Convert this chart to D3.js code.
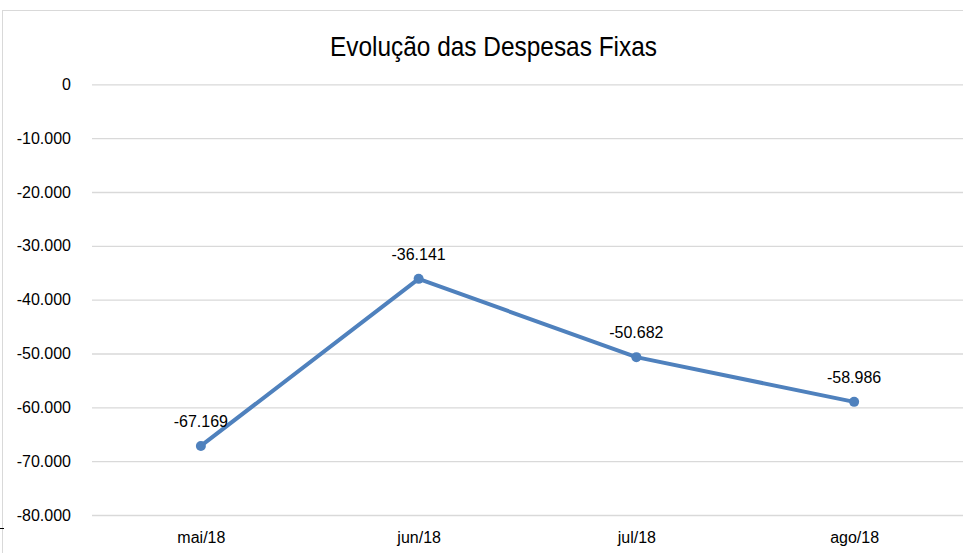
<!DOCTYPE html>
<html><head><meta charset="utf-8">
<script src="https://cdn.jsdelivr.net/npm/d3@7"></script>
<style>body{margin:0;background:#fff}svg{display:block}</style>
</head><body>
<script>
const title = "Evolução das Despesas Fixas";
const categories = ["mai/18", "jun/18", "jul/18", "ago/18"];
const values = [-67169, -36141, -50682, -58986];
const yTicks = [0, -10000, -20000, -30000, -40000, -50000, -60000, -70000, -80000];

const W = 963, H = 553;
const svg = d3.select("body").append("svg").attr("width", W).attr("height", H);
svg.append("rect").attr("x",2.5).attr("y",10.5).attr("width",W+5).attr("height",H+5)
  .attr("fill","#fff").attr("stroke","#d9d9d9");
svg.append("line").attr("x1",0).attr("x2",4).attr("y1",528.5).attr("y2",528.5).attr("stroke","#000");

const x = d3.scalePoint().domain(categories).range([92, 963]).padding(0.5);
const y = d3.scaleLinear().domain([-80000, 0]).range([515, 84.3]);
const fmt = v => d3.format(",")(v).replace(/,/g, ".").replace(/\u2212/g, "-");

const yAxis = d3.axisLeft(y).tickValues(yTicks).tickSize(-(963-92)).tickFormat(fmt).tickPadding(21);
const gy = svg.append("g").attr("transform","translate(92,0)").call(yAxis);
gy.select(".domain").remove();
gy.selectAll(".tick line").attr("stroke","#d9d9d9").attr("stroke-width",1.3);
gy.selectAll(".tick text").attr("fill","#000").style("font-family","'Liberation Sans', Arial, sans-serif").style("font-size","16px");

const xAxis = d3.axisBottom(x).tickSize(0).tickPadding(17);
const gx = svg.append("g").attr("transform","translate(0,515)").call(xAxis);
gx.select(".domain").remove();
gx.selectAll(".tick text").attr("fill","#000").style("font-family","'Liberation Sans', Arial, sans-serif").style("font-size","16px");

svg.append("text").attr("x",330).attr("y",55.5).attr("text-anchor","start")
  .attr("textLength",327).attr("lengthAdjust","spacingAndGlyphs")
  .style("font-family","'Liberation Sans', Arial, sans-serif").style("font-size","28px")
  .attr("fill","#000").text(title);

const line = d3.line().x((d,i)=>x(categories[i])).y(d=>y(d));
svg.append("path").datum(values).attr("d", line).attr("fill","none")
  .attr("stroke","#4f81bd").attr("stroke-width",4).attr("stroke-linejoin","round");
svg.selectAll("circle.pt").data(values).enter().append("circle")
  .attr("cx",(d,i)=>x(categories[i])).attr("cy",d=>y(d)).attr("r",5).attr("fill","#4f81bd");
svg.selectAll("text.lbl").data(values).enter().append("text")
  .attr("x",(d,i)=>x(categories[i])).attr("y",d=>y(d)-19).attr("text-anchor","middle")
  .style("font-family","'Liberation Sans', Arial, sans-serif").style("font-size","16px").attr("fill","#000")
  .text(d=>fmt(d));
</script>
</body></html>
